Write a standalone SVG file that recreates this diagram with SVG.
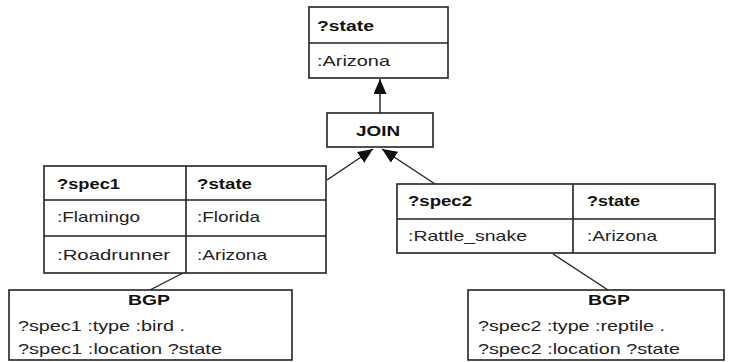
<svg xmlns="http://www.w3.org/2000/svg" width="740" height="362" viewBox="0 0 740 362">
  <style>
    .box { fill: #fff; stroke: #222; stroke-width: 1.6; }
    .rule { stroke: #222; stroke-width: 1.6; fill: none; }
    .edge { stroke: #222; stroke-width: 1.4; fill: none; }
    .h { font-family: "Liberation Sans", Arial, sans-serif; font-size: 15px; font-weight: bold; fill: #111; }
    .v { font-family: "Liberation Sans", Arial, sans-serif; font-size: 15px; fill: #222; }
  </style>
  <defs>
    <marker id="arrow" markerUnits="userSpaceOnUse" markerWidth="16" markerHeight="13" refX="15" refY="6.5" orient="auto">
      <path d="M0,0 L15,6.5 L0,13 z" fill="#111"/>
    </marker>
  </defs>

  <!-- connectors -->
  <g id="connectors">
    <line class="edge" x1="380" y1="113" x2="380" y2="79" marker-end="url(#arrow)"/>
    <line class="edge" x1="327" y1="180" x2="373" y2="149" marker-end="url(#arrow)"/>
    <line class="edge" x1="435" y1="184" x2="382" y2="149" marker-end="url(#arrow)"/>
    <line class="edge" x1="183" y1="273" x2="150" y2="290"/>
    <line class="edge" x1="553" y1="254" x2="608" y2="290"/>
  </g>

  <!-- projection result -->
  <g id="result">
    <rect class="box" x="309" y="7" width="139" height="71"/>
    <line class="rule" x1="309" y1="43" x2="448" y2="43"/>
    <text class="h" x="317" y="31" textLength="57" lengthAdjust="spacingAndGlyphs">?state</text>
    <text class="v" x="317" y="66" textLength="73" lengthAdjust="spacingAndGlyphs">:Arizona</text>
  </g>

  <!-- join operator -->
  <g id="join">
    <rect class="box" x="327" y="113" width="106" height="34"/>
    <text class="h" x="356" y="136" textLength="44" lengthAdjust="spacingAndGlyphs">JOIN</text>
  </g>

  <!-- left solution table -->
  <g id="table1">
    <rect class="box" x="44" y="166" width="282" height="107"/>
    <line class="rule" x1="44" y1="200" x2="326" y2="200"/>
    <line class="rule" x1="44" y1="236" x2="326" y2="236"/>
    <line class="rule" x1="186" y1="166" x2="186" y2="273"/>
    <text class="h" x="57" y="189" textLength="63" lengthAdjust="spacingAndGlyphs">?spec1</text>
    <text class="h" x="197" y="189" textLength="55" lengthAdjust="spacingAndGlyphs">?state</text>
    <text class="v" x="57" y="222" textLength="83" lengthAdjust="spacingAndGlyphs">:Flamingo</text>
    <text class="v" x="197" y="222" textLength="63" lengthAdjust="spacingAndGlyphs">:Florida</text>
    <text class="v" x="57" y="260" textLength="113" lengthAdjust="spacingAndGlyphs">:Roadrunner</text>
    <text class="v" x="197" y="260" textLength="70" lengthAdjust="spacingAndGlyphs">:Arizona</text>
  </g>

  <!-- right solution table -->
  <g id="table2">
    <rect class="box" x="397" y="184" width="318" height="69"/>
    <line class="rule" x1="397" y1="219" x2="715" y2="219"/>
    <line class="rule" x1="573" y1="184" x2="573" y2="253"/>
    <text class="h" x="408" y="206" textLength="64" lengthAdjust="spacingAndGlyphs">?spec2</text>
    <text class="h" x="587" y="206" textLength="53" lengthAdjust="spacingAndGlyphs">?state</text>
    <text class="v" x="408" y="241" textLength="119" lengthAdjust="spacingAndGlyphs">:Rattle_snake</text>
    <text class="v" x="587" y="241" textLength="70" lengthAdjust="spacingAndGlyphs">:Arizona</text>
  </g>

  <!-- left basic graph pattern -->
  <g id="bgp1">
    <rect class="box" x="9" y="290" width="283" height="70"/>
    <text class="h" x="128" y="305" textLength="42" lengthAdjust="spacingAndGlyphs">BGP</text>
    <text class="v" x="18" y="331" textLength="167" lengthAdjust="spacingAndGlyphs">?spec1 :type :bird .</text>
    <text class="v" x="18" y="354" textLength="204" lengthAdjust="spacingAndGlyphs">?spec1 :location ?state</text>
  </g>

  <!-- right basic graph pattern -->
  <g id="bgp2">
    <rect class="box" x="468" y="290" width="256" height="70"/>
    <text class="h" x="588" y="305" textLength="42" lengthAdjust="spacingAndGlyphs">BGP</text>
    <text class="v" x="478" y="331" textLength="187" lengthAdjust="spacingAndGlyphs">?spec2 :type :reptile .</text>
    <text class="v" x="478" y="354" textLength="202" lengthAdjust="spacingAndGlyphs">?spec2 :location ?state</text>
  </g>
</svg>
